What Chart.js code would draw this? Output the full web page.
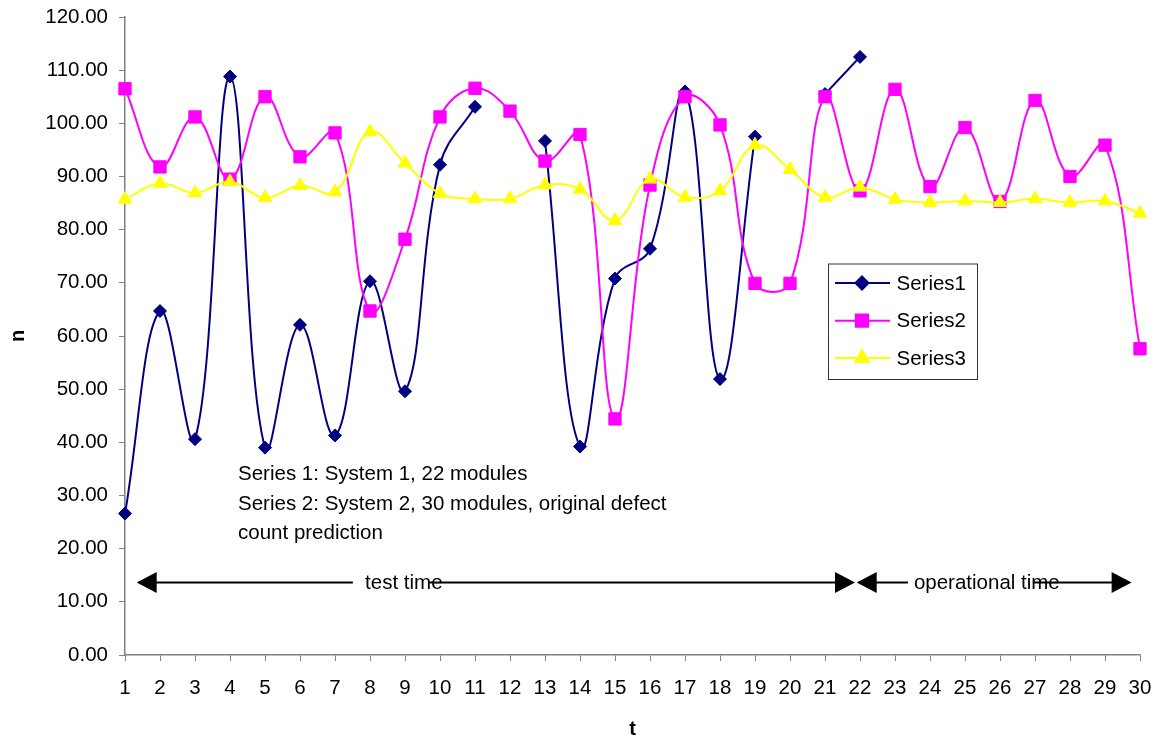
<!DOCTYPE html>
<html>
<head>
<meta charset="utf-8">
<style>
html,body{margin:0;padding:0;background:#fff;}
#wrap{width:1159px;height:742px;position:relative;}
</style>
<script src="https://cdn.jsdelivr.net/npm/chart.js@4/dist/chart.umd.min.js"></script>
</head>
<body>
<div id="wrap"><canvas id="c" width="1159" height="742"></canvas></div>
<script>
// ---- data ----
const categories = ['1','2','3','4','5','6','7','8','9','10','11','12','13','14','15','16','17','18','19','20','21','22','23','24','25','26','27','28','29','30'];
const series1 = [26.6, 64.7, 40.6, 108.8, 39.0, 62.1, 41.3, 70.3, 49.6, 92.2, 103.1, null, 96.7, 39.2, 70.8, 76.4, 106.0, 51.9, 97.5, null, 105.5, 112.5, null, null, null, null, null, null, null, null];
const series2 = [106.5, 91.8, 101.2, 89.5, 105.0, 93.7, 98.2, 64.7, 78.2, 101.2, 106.6, 102.3, 92.9, 97.9, 44.4, 88.4, 105.0, 99.7, 69.9, 69.9, 105.0, 87.3, 106.4, 88.1, 99.2, 85.3, 104.3, 90.0, 95.9, 57.6];
const series3 = [85.7, 88.7, 86.9, 89.0, 86.0, 88.3, 87.1, 98.4, 92.5, 86.8, 85.8, 85.8, 88.4, 87.6, 81.7, 89.5, 86.1, 87.3, 95.9, 91.3, 86.1, 88.0, 85.7, 85.1, 85.4, 85.1, 85.8, 85.1, 85.4, 83.1];
const seriesNames = ['Series1', 'Series2', 'Series3'];
const yMin = 0, yMax = 120, yStep = 10;
const xTitle = 't';
const yTitle = 'n';
const noteLines = ['Series 1: System 1, 22 modules', 'Series 2: System 2, 30 modules, original defect', 'count prediction'];
const periodLabels = ['test time', 'operational time'];

// ---- styling ----
const FONT = '"Liberation Sans", Arial, Helvetica, sans-serif';
const FS = 20.5;
Chart.defaults.font.family = FONT;
Chart.defaults.font.size = FS;
Chart.defaults.color = '#000';

const styles = [
  {color:'#000080', pointStyle:'rectRot', radius:6.5},
  {color:'#FF00FF', pointStyle:'rect', radius:8.7},
  {color:'#FFFF00', pointStyle:'triangle', radius:7.8}
];

function mkDataset(i, data, order) {
  const s = styles[i];
  return {
    label: seriesNames[i],
    data: data,
    borderColor: s.color,
    backgroundColor: s.color,
    borderWidth: 2,
    pointStyle: s.pointStyle,
    pointRadius: s.radius,
    pointBorderWidth: 1,
    pointBorderColor: s.color,
    pointBackgroundColor: s.color,
    tension: 0.4,
    spanGaps: false,
    order: order
  };
}

const overlay = {
  id: 'overlay',
  afterDatasetsDraw(chart) {
    const ctx = chart.ctx;
    // legend box
    const bx = 828, by = 263.5, bw = 149, bh = 115.5;
    ctx.save();
    ctx.fillStyle = '#fff';
    ctx.fillRect(bx, by, bw, bh);
    ctx.strokeStyle = '#333';
    ctx.lineWidth = 1;
    ctx.strokeRect(bx + 0.5, by + 0.5, bw, bh);
    const rows = [283, 320.7, 358];
    ctx.font = FS + 'px ' + FONT;
    ctx.textBaseline = 'middle';
    ctx.textAlign = 'left';
    for (let i = 0; i < 3; i++) {
      const s = styles[i];
      const y = rows[i];
      ctx.strokeStyle = s.color;
      ctx.lineWidth = 2;
      ctx.beginPath();
      ctx.moveTo(835, y);
      ctx.lineTo(890, y);
      ctx.stroke();
      ctx.fillStyle = s.color;
      Chart.helpers.drawPoint(ctx, {pointStyle: s.pointStyle, radius: s.radius, rotation: 0, borderWidth: 1}, 862, y);
      ctx.fillStyle = '#000';
      ctx.fillText(seriesNames[i], 896.5, y + 1);
    }
    ctx.restore();
  },
  afterDraw(chart) {
    const ctx = chart.ctx;
    const xs = chart.scales.x;
    const px = v => xs.getPixelForValue(v);
    ctx.save();
    // notes
    ctx.font = FS + 'px ' + FONT;
    ctx.fillStyle = '#000';
    ctx.textAlign = 'left';
    ctx.textBaseline = 'middle';
    const noteX = px(3.23);
    const noteY = [474, 504, 533];
    noteLines.forEach((t, i) => ctx.fillText(t, noteX, noteY[i]));

    // arrows
    const ay = 582.5;
    ctx.strokeStyle = '#000';
    ctx.lineWidth = 2;
    function head(tip, dir) {
      ctx.beginPath();
      ctx.moveTo(tip, ay);
      ctx.lineTo(tip + dir * 20, ay - 10.5);
      ctx.lineTo(tip + dir * 20, ay + 10.5);
      ctx.closePath();
      ctx.fill();
    }
    function seg(a, b) {
      ctx.beginPath();
      ctx.moveTo(a, ay);
      ctx.lineTo(b, ay);
      ctx.stroke();
    }
    // test time arrow
    const t1L = px(0.334), t1R = px(20.857);
    seg(t1L + 15, px(6.51));
    seg(px(8.66), t1R - 15);
    head(t1L, 1);
    head(t1R, -1);
    ctx.fillText(periodLabels[0], px(6.86), ay + 1);
    // operational time arrow
    const t2L = px(20.906), t2R = px(28.76);
    seg(t2L + 15, px(22.37));
    seg(px(25.94), t2R - 15);
    head(t2L, 1);
    head(t2R, -1);
    ctx.fillText(periodLabels[1], px(22.54), ay + 1);
    ctx.restore();
  }
};

new Chart(document.getElementById('c'), {
  type: 'line',
  data: {
    labels: categories,
    datasets: [mkDataset(0, series1, 3), mkDataset(1, series2, 2), mkDataset(2, series3, 1)]
  },
  options: {
    responsive: false,
    animation: false,
    devicePixelRatio: 1,
    layout: {padding: {left: 0, top: 17, right: 19, bottom: 0}},
    plugins: {legend: {display: false}, tooltip: {enabled: false}},
    elements: {line: {capBezierPoints: true}},
    scales: {
      x: {
        type: 'category',
        offset: false,
        grid: {display: true, drawOnChartArea: false, drawTicks: true, tickLength: 6, color: '#808080', lineWidth: 1, offset: false},
        border: {display: true, color: '#808080', width: 1.5},
        ticks: {padding: 15, maxRotation: 0, autoSkip: false, color: '#000', font: {size: FS}},
        title: {display: true, text: xTitle, font: {size: 20, weight: 'bold'}, color: '#000', padding: {top: 0, bottom: 1}},
        afterFit(scale) { scale.height = 87; scale.paddingLeft = 0; scale.paddingRight = 0; }
      },
      y: {
        min: yMin, max: yMax,
        grid: {display: true, drawOnChartArea: false, drawTicks: true, tickLength: 6, color: '#808080', lineWidth: 1},
        border: {display: true, color: '#808080', width: 1.5},
        ticks: {stepSize: yStep, padding: 11, color: '#000', font: {size: FS}, callback: v => Number(v).toFixed(2)},
        title: {display: true, text: yTitle, font: {size: 20, weight: 'bold'}, color: '#000', padding: {top: 6, bottom: 0}},
        afterFit(scale) { scale.width = 125; scale.paddingTop = 0; scale.paddingBottom = 0; }
      }
    }
  },
  plugins: [overlay]
});
</script>
</body>
</html>
